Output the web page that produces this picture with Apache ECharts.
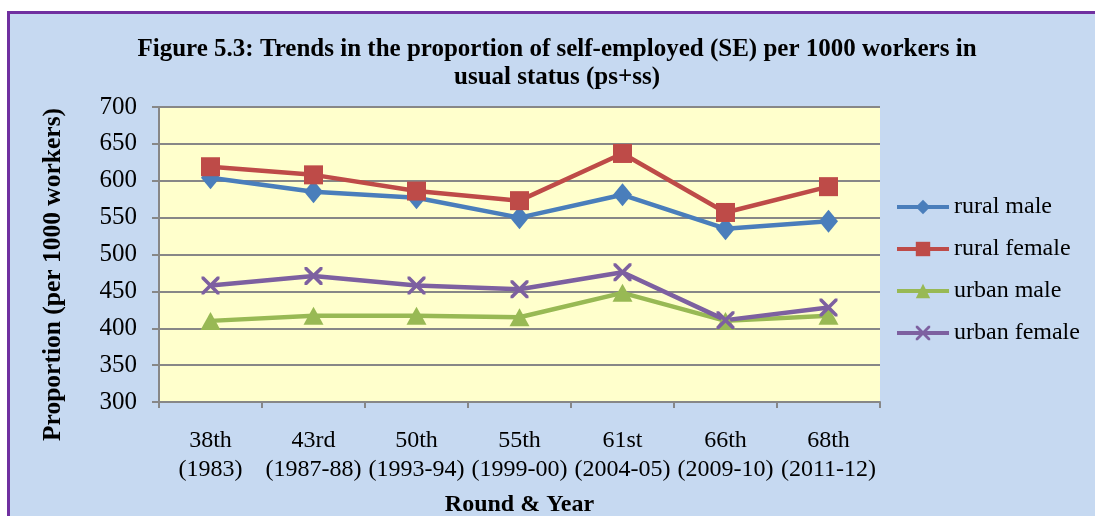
<!DOCTYPE html>
<html>
<head>
<meta charset="utf-8">
<script src="https://cdn.jsdelivr.net/npm/echarts@6/dist/echarts.min.js"></script>
<style>
  html, body { margin: 0; padding: 0; background: #ffffff; }
  #frame { position: absolute; left: 7px; top: 11px; width: 1100px; height: 520px;
           background: #c6d9f1; border-top: 3px solid #7030a0; border-left: 3px solid #7030a0; }
  #chart { position: absolute; left: 0; top: 0; width: 1095px; height: 516px; }
</style>
</head>
<body>
<div id="frame"></div>
<div id="chart"></div>
<script>
var rounds = ['38th\n(1983)', '43rd\n(1987-88)', '50th\n(1993-94)', '55th\n(1999-00)', '61st\n(2004-05)', '66th\n(2009-10)', '68th\n(2011-12)'];
var ruralMale = [604, 585, 577, 550, 581, 535, 545];
var ruralFemale = [619, 608, 586, 573, 637, 557, 592];
var urbanMale = [410, 417, 417, 415, 448, 410, 417];
var urbanFemale = [458, 471, 458, 453, 476, 411, 428];

var serif = '"Liberation Serif", "Times New Roman", serif';
var crossPath = 'path://M0,0 L1.4,0 L5,3.6 L8.6,0 L10,0 L10,1.4 L6.4,5 L10,8.6 L10,10 L8.6,10 L5,6.4 L1.4,10 L0,10 L0,8.6 L3.6,5 L0,1.4 Z';

var chart = echarts.init(document.getElementById('chart'));

function makeSeries(name, data, color, symbol, size) {
	return {
		name : name,
		type : 'line',
		data : data,
		symbol : symbol,
		symbolSize : size,
		showSymbol : true,
		lineStyle : { color : color, width : 4.5 },
		itemStyle : { color : color },
		emphasis : { disabled : true },
		animation : false
	};
}

chart.setOption({
	backgroundColor : 'transparent',
	title : {
		text : 'Figure 5.3: Trends in the proportion of self-employed (SE) per 1000 workers in\nusual status (ps+ss)',
		left : 552,
		top : 31,
		textAlign : 'center',
		textStyle : { fontFamily : serif, fontSize : 25, fontWeight : 'bold', color : '#000', lineHeight : 28 }
	},
	legend : {
		orient : 'vertical',
		left : 890,
		top : 190,
		itemWidth : 52,
		itemHeight : 18,
		itemGap : 18,
		lineStyle : { width : 4 },
		textStyle : { fontFamily : serif, fontSize : 24, color : '#000' },
		data : ['rural male', 'rural female', 'urban male', 'urban female']
	},
	grid : { left : 159, right : 215, top : 107, bottom : 114, containLabel : false,
		outerBoundsMode : 'none',
		show : true, backgroundColor : '#ffffcc', borderWidth : 0 },
	xAxis : {
		type : 'category',
		data : rounds,
		boundaryGap : true,
		name : 'Round & Year',
		nameLocation : 'middle',
		nameGap : 91,
		nameMoveOverlap : false,
		nameTextStyle : { fontFamily : serif, fontSize : 24, fontWeight : 'bold', color : '#000' },
		axisLine : { lineStyle : { color : '#878787', width : 2 } },
		axisTick : { show : true, alignWithLabel : false, length : 6, lineStyle : { color : '#878787', width : 2 } },
		axisLabel : { fontFamily : serif, fontSize : 24, color : '#000', lineHeight : 29, margin : 24, interval : 0 }
	},
	yAxis : {
		type : 'value',
		min : 300,
		max : 700,
		interval : 50,
		name : 'Proportion (per 1000 workers)',
		nameLocation : 'middle',
		nameGap : 93,
		nameMoveOverlap : false,
		nameTextStyle : { fontFamily : serif, fontSize : 25.5, fontWeight : 'bold', color : '#000', padding : [0, 40, 0, 0] },
		axisLine : { show : true, lineStyle : { color : '#878787', width : 2 } },
		axisTick : { show : true, length : 7, lineStyle : { color : '#878787', width : 2 } },
		axisLabel : { fontFamily : serif, fontSize : 25, color : '#000', margin : 22 },
		splitLine : { lineStyle : { color : '#878787', width : 2 } }
	},
	series : [
		makeSeries('rural male', ruralMale, '#4a7ebb', 'diamond', [19, 23]),
		makeSeries('rural female', ruralFemale, '#be4b48', 'rect', 19),
		makeSeries('urban male', urbanMale, '#98b954', 'triangle', [20, 18]),
		makeSeries('urban female', urbanFemale, '#7d60a0', crossPath, 18)
	]
});
</script>
</body>
</html>
